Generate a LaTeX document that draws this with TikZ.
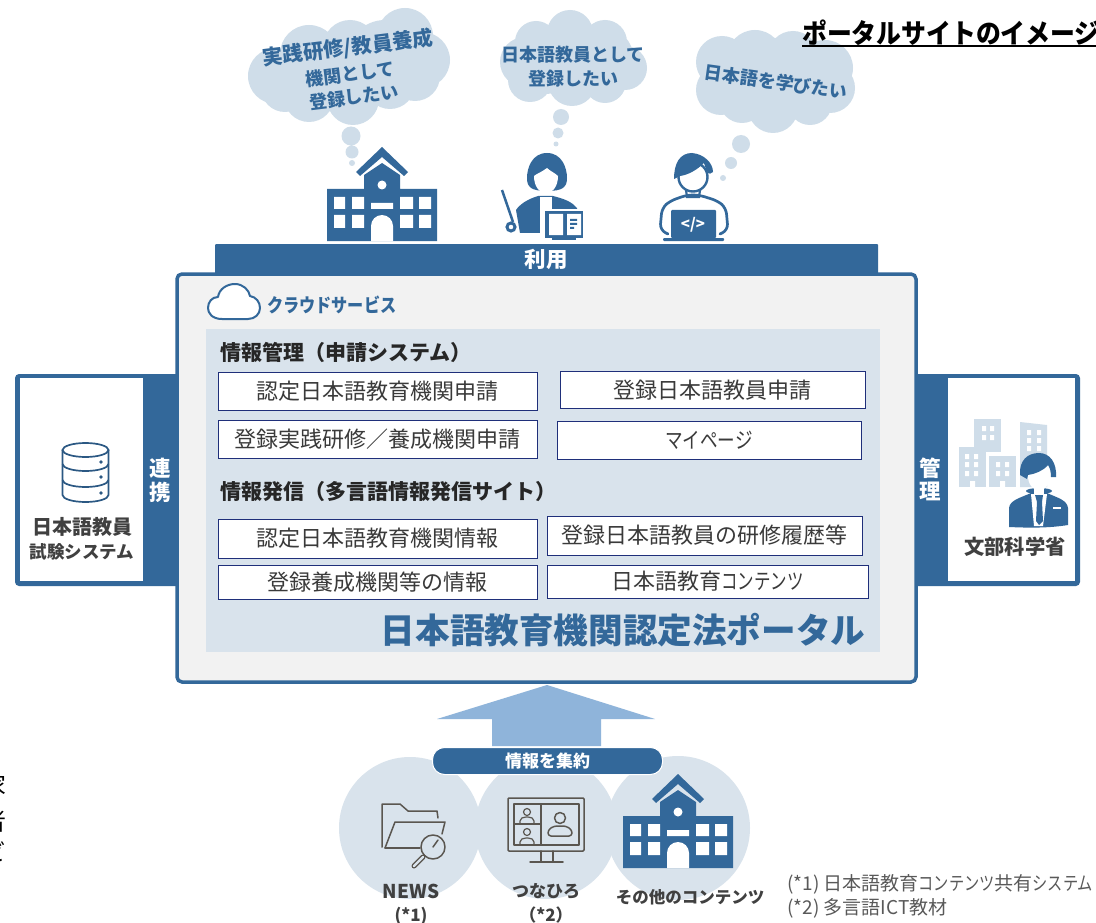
\documentclass[tikz,border=0pt]{standalone}
\usepackage{fontspec}
\setmainfont{Noto Sans CJK JP}
\newfontfamily\pf[CharacterWidth=Proportional]{Noto Sans CJK JP}
\definecolor{mainblue}{HTML}{33689A}
\definecolor{cloudc}{HTML}{CFDDE9}
\definecolor{panelc}{HTML}{D9E3EC}
\definecolor{framef}{HTML}{F2F2F2}
\definecolor{navy}{HTML}{1F2F7A}
\definecolor{arrowc}{HTML}{8FB4DA}
\definecolor{grayt}{HTML}{404040}
\definecolor{boxt}{HTML}{3A3A3A}
\definecolor{linec}{HTML}{5A5650}
\tikzset{
  entry/.style={draw=navy,line width=1pt,fill=white,inner sep=0pt,font=\pf\fontsize{22}{22}\selectfont,text=boxt},
  head/.style={anchor=west,inner sep=0pt,font=\bfseries\fontsize{21}{21}\selectfont,text=black!85},
  cloudt/.style={inner sep=0pt,font=\pf\bfseries\fontsize{18}{18}\selectfont,text=mainblue},
  whitet/.style={inner sep=0pt,font=\bfseries\fontsize{21.5}{22}\selectfont,text=white},
  grayb/.style={inner sep=0pt,font=\bfseries\fontsize{17}{17}\selectfont,text=grayt},
  note/.style={anchor=west,inner sep=0pt,font=\pf\fontsize{19}{19}\selectfont,text=black!65},
  icl/.style={draw=linec,line width=1.5pt,line join=round,line cap=round},
}
\newcommand{\rx}[4]{(#1,#2) rectangle (#3,#4)}
\newcommand{\nrw}[2]{\scalebox{#1}[1]{#2}}
\newcommand{\schoolicon}[2]{%
 \begin{scope}[shift={(#1,#2)}]
  \fill[mainblue] (0,42) -- (37,42) -- (37,28) -- (55,16) -- (73,28) -- (73,42) -- (110,42) -- (110,94) -- (0,94) -- cycle;
  \fill[mainblue] (55,0) -- (81,25) -- (77,29) -- (55,10) -- (33,29) -- (29,25) -- cycle;
  \fill[white] \rx{7}{50}{18}{62} \rx{25}{50}{37}{62} \rx{73}{50}{86}{62} \rx{92}{50}{104}{62}
    \rx{7}{68}{18}{81} \rx{25}{68}{37}{81} \rx{73}{68}{86}{81} \rx{92}{68}{104}{81} \rx{44}{56}{66}{62};
  \fill[white] (44,94) -- (44,79) arc[start angle=180,end angle=360,radius=11] -- (66,94) -- cycle;
  \fill[white] (55,38) circle[radius=4.5];
 \end{scope}}
\newcommand{\bld}[4]{\fill[cloudc] \rx{#1}{#2}{#3}{#4};}
\begin{document}
\begin{tikzpicture}[x=1pt,y=-1pt]
\useasboundingbox (0,0) rectangle (1096,923);
\clip (0,0) rectangle (1096,923);
\fill[white] (0,0) rectangle (1096,923);

% clipped text at left edge
\node[anchor=east,inner sep=0pt,font=\fontsize{24}{24}\selectfont] (cut1) at (7,785) {家};
\node[anchor=east,inner sep=0pt,font=\fontsize{24}{24}\selectfont] (cut2) at (7,821) {者};
\node[anchor=east,inner sep=0pt,font=\fontsize{24}{24}\selectfont] (cut3) at (7,852) {ビ};

% clouds
\fill[cloudc] (276,76) circle[radius=28] (309,54) circle[radius=29] (350,47) circle[radius=27] (405,36) circle[radius=28]
  (422,60) circle[radius=28] (415,76) circle[radius=25] (390,84) circle[radius=25] (353,99) circle[radius=26]
  (309,97) circle[radius=25] (350,70) circle[radius=42] (285,88) circle[radius=24] (385,58) circle[radius=38] (315,74) circle[radius=40];
\fill[cloudc] (351,136) circle[radius=9.5] (352,152) circle[radius=6.5] (352,163) circle[radius=3];
\node[cloudt,font=\pf\bfseries\fontsize{20.5}{21}\selectfont,rotate=7] (c1a) at (348,48) {実践研修/教員養成};
\node[cloudt,rotate=7] (c1b) at (350,74) {機関として};
\node[cloudt,rotate=7] (c1c) at (354,97) {登録したい};

\fill[cloudc] (525,62) circle[radius=25] (536,42) circle[radius=21] (570,33) circle[radius=23] (605,42) circle[radius=22]
  (625,68) circle[radius=22] (605,82) circle[radius=21] (572,82) circle[radius=24] (530,80) circle[radius=22] (572,60) circle[radius=36] (545,60) circle[radius=34] (600,60) circle[radius=34];
\fill[cloudc] (561,117) circle[radius=8] (558,133) circle[radius=5.5] (556,144) circle[radius=2.5];
\node[cloudt] (c2a) at (573,55) {日本語教員として};
\node[cloudt] (c2b) at (573,79) {登録したい};

\fill[cloudc] (722,62) circle[radius=26] (721,90) circle[radius=25] (755,58) circle[radius=28] (793,56) circle[radius=25]
  (825,68) circle[radius=28] (830,88) circle[radius=25] (810,103) circle[radius=22] (773,108) circle[radius=25] (742,100) circle[radius=23]
  (775,80) circle[radius=42] (800,80) circle[radius=40] (745,80) circle[radius=40];
\fill[cloudc] (741,144) circle[radius=9] (731,163) circle[radius=6] (723,178) circle[radius=3];
\node[cloudt,rotate=-8] (c3) at (776,82) {日本語を学びたい};

% title
\node[anchor=west,inner sep=0pt,font=\pf\bfseries\fontsize{27}{27}\selectfont] (title) at (802,33) {\nrw{0.92}{ポータルサイトのイメージ}};
\fill[black] \rx{802}{45}{1096}{47};

% school
\schoolicon{327}{147}

% teacher
\fill[mainblue] (547,153) .. controls (532,153) and (527,168) .. (527,178) .. controls (527,187) and (531,191) .. (547,191) .. controls (563,191) and (567,187) .. (567,178) .. controls (567,168) and (562,153) .. (547,153) -- cycle;
\fill[white] (547,168) .. controls (542,172) and (536,174) .. (534,176) .. controls (534,186) and (539,193) .. (546,193) .. controls (553,193) and (558,186) .. (558,176) .. controls (555,173) and (550,171) .. (547,168) -- cycle;
\fill[mainblue] (516,210) .. controls (520,204) and (528,199) .. (538,196) -- (553,196) .. controls (565,199) and (572,202) .. (577,208) -- (577,233) -- (520,233) -- cycle;
\fill[white] \rx{540}{197}{552}{209};
\fill[white] (540,240) rectangle (585,209);
\fill[mainblue] \rx{545}{211}{583}{238};
\fill[mainblue] (552,238) rectangle (576,240);
\fill[white] \rx{549}{214}{563}{235} \rx{567}{214}{581}{235};
\fill[mainblue] \rx{570}{219}{577}{221} \rx{570}{223}{577}{225} \rx{570}{227}{574}{229};
\draw[mainblue,line width=2.5pt] (502,190) -- (513,222);
\filldraw[fill=white,draw=mainblue,line width=3pt] (511,227) circle[radius=4];

% student
\draw[mainblue,line width=2.4pt] (693,177) circle[radius=14.5];
\fill[mainblue] (674,179) .. controls (674,163) and (680,153) .. (692,153) .. controls (704,154) and (713,163) .. (713,172) .. controls (711,174) and (709,174) .. (708,173) .. controls (706,170) and (705,166) .. (704,163) .. controls (697,170) and (688,175) .. (680,176) -- cycle;
\draw[mainblue,line width=2.7pt,line cap=round,rounded corners=6pt] (668,234) -- (660,230) -- (662,208) -- (670,201) -- (687,195) -- (699,195) -- (718,201) -- (726,208) -- (728,230) -- (720,234);
\draw[mainblue,line width=2.2pt] (686,190) -- (687,197) -- (699,197) -- (700,190);
\fill[white] \rx{669}{207}{718}{238};
\fill[mainblue,rounded corners=1pt] \rx{671}{210}{716}{238};
\fill[mainblue,rounded corners=1pt] \rx{663}{238}{724}{241};
\node[inner sep=0pt,font=\bfseries\fontsize{15}{15}\selectfont,text=white] (code) at (693,225) {</>};

% use bar
\fill[mainblue,rounded corners=1pt] \rx{215}{244}{878}{274};
\node[whitet] (riyou) at (546,259) {利用};

% left box
\fill[mainblue,rounded corners=4pt] \rx{15}{374}{185}{586};
\fill[white] \rx{20}{378}{143}{581};
\node[whitet] (ren) at (160,468) {連};
\node[whitet] (kei) at (160,492) {携};
\draw[mainblue!85!black,line width=1.7pt] (62.5,450) -- (62.5,495) arc[start angle=180,end angle=0,x radius=23,y radius=7] -- (108.5,450);
\draw[mainblue!85!black,line width=1.7pt] (85.5,450) ellipse[x radius=23,y radius=7];
\draw[mainblue!85!black,line width=1.7pt] (62.5,464) arc[start angle=180,end angle=0,x radius=23,y radius=7];
\draw[mainblue!85!black,line width=1.7pt] (62.5,480) arc[start angle=180,end angle=0,x radius=23,y radius=7];
\fill[mainblue!85!black] (101,462) circle[radius=1.8] (101,477) circle[radius=1.8] (101,493) circle[radius=1.8];
\node[grayb,font=\bfseries\fontsize{20}{20}\selectfont] (ls1) at (82,527) {日本語教員};
\node[grayb,font=\bfseries\fontsize{17.5}{18}\selectfont] (ls2) at (82,552) {試験システム};

% right box
\fill[mainblue,rounded corners=4pt] \rx{908}{374}{1080}{586};
\fill[white] \rx{948}{378}{1075}{581};
\node[whitet] (kan) at (930,468) {管};
\node[whitet] (ri) at (930,491) {理};
\bld{974}{419}{1001}{452}
\bld{959}{447}{986}{487}
\bld{989}{456}{1016}{487}
\fill[cloudc] (1020,422) -- (1047,425) -- (1047,487) -- (1020,487) -- cycle;
\fill[white] \rx{982}{426}{986}{431} \rx{990}{426}{994}{431} \rx{982}{435}{986}{440} \rx{990}{435}{994}{440}
  \rx{965}{454}{969}{459} \rx{974}{454}{978}{459} \rx{965}{462}{969}{467} \rx{974}{462}{978}{467} \rx{965}{471}{969}{476} \rx{974}{471}{978}{476}
  \rx{996}{462}{1000}{467} \rx{1005}{462}{1009}{467} \rx{996}{471}{1000}{476} \rx{1005}{471}{1009}{476}
  \rx{1027}{430}{1031}{435} \rx{1037}{430}{1041}{435} \rx{1027}{438}{1031}{443} \rx{1037}{438}{1041}{443} \rx{1027}{446}{1031}{451} \rx{1037}{446}{1041}{451};
\fill[white] \rx{970}{481}{975}{487} \rx{1000}{481}{1005}{487};
% official
\fill[white] (1012,527) rectangle (1066,490);
\fill[mainblue] (1009,527) -- (1009,508) .. controls (1010,500) and (1020,498) .. (1031,493) -- (1047,493) .. controls (1058,498) and (1067,500) .. (1068,508) -- (1068,525) .. controls (1050,528) and (1030,528) .. (1009,527) -- cycle;
\fill[white] (1031,494) -- (1047,494) -- (1043,526) -- (1034,526) -- cycle;
\fill[mainblue] (1035,495) -- (1043,495) -- (1042,502) -- (1043,521) -- (1039,525) -- (1036,521) -- (1037,502) -- cycle;
\fill[white] \rx{1053}{507}{1061}{509};
\fill[mainblue] (1039,491) ellipse[x radius=13,y radius=3];
\fill[white] (1039,476) ellipse[x radius=11,y radius=14.5];
\fill[white] \rx{1034}{485}{1044}{494};
\fill[mainblue] (1020,475) .. controls (1019,461) and (1027,453) .. (1039,453) .. controls (1050,453) and (1057,463) .. (1056,477) -- (1051,477) .. controls (1051,472) and (1050,468) .. (1048,465) .. controls (1043,471) and (1035,474) .. (1028,475) -- (1027,479) -- cycle;
\node[grayb,font=\bfseries\fontsize{20.3}{21}\selectfont] (ls3) at (1015,547) {文部科学省};

% main frame
\filldraw[fill=framef,draw=mainblue,line width=3.5pt,rounded corners=5pt] \rx{177}{274}{916}{682};
\fill[panelc] \rx{206}{329}{880}{652};

% cloud service
\draw[mainblue,line width=2pt,fill=white,line join=round] (222,319) .. controls (212,319) and (208,313) .. (208,308) .. controls (208,302) and (212,297) .. (218,297) .. controls (219,289) and (227,284) .. (235,284) .. controls (243,284) and (249,290) .. (250,296) .. controls (256,297) and (260,302) .. (260,308) .. controls (260,314) and (255,319) .. (248,319) -- cycle;
\node[anchor=west,inner sep=0pt,font=\pf\bfseries\fontsize{19}{19}\selectfont,text=mainblue] (cs) at (267,305) {\nrw{0.85}{クラウドサービス}};

% headings
\node[head] (h1) at (220,352) {情報管理（申請システム）};
\node[head] (h2) at (220,492) {情報発信（多言語情報発信サイト）};

% entries
\node[entry,minimum width=319pt,minimum height=38pt] (e1) at (377.5,391.5) {認定日本語教育機関申請};
\node[entry,minimum width=305pt,minimum height=37pt] (e2) at (712.5,390) {登録日本語教員申請};
\node[entry,font=\fontsize{22}{22}\selectfont,minimum width=319pt,minimum height=38pt] (e3) at (377.5,439) {登録実践研修／養成機関申請};
\node[entry,minimum width=304pt,minimum height=38pt] (e4) at (709,440.5) {\nrw{0.8}{マイページ}};
\node[entry,minimum width=319pt,minimum height=39pt] (e5) at (377.5,538.5) {認定日本語教育機関情報};
\node[entry,minimum width=315pt,minimum height=39pt] (e6) at (704.5,535.5) {登録日本語教員の研修履歴等};
\node[entry,minimum width=319pt,minimum height=34pt] (e7) at (377.5,582) {登録養成機関等の情報};
\node[entry,minimum width=321pt,minimum height=33pt] (e8) at (707.5,581.5) {日本語教育\nrw{0.75}{コンテンツ}};

\node[inner sep=0pt,font=\bfseries\fontsize{34.6}{35}\selectfont,text=mainblue] (big) at (623,630) {日本語教育機関認定法ポータル};

% bottom circles
\fill[panelc] (410,828) circle[radius=71];
\fill[panelc] (546,828) circle[radius=71];
\fill[panelc] (678,828) circle[radius=72];

% arrow
\fill[arrowc] (547,685) -- (655,719) -- (601,719) -- (601,746) -- (492,746) -- (492,719) -- (437,719) -- cycle;

% pill
\node[draw=white,line width=1pt,fill=mainblue,rounded corners=12pt,minimum width=230pt,minimum height=27pt,inner sep=0pt,font=\bfseries\fontsize{17}{17}\selectfont,text=white] (pill) at (547.5,761) {情報を集約};

% folder
\draw[icl] (382,847) -- (382,804) -- (400,804) -- (408,811) -- (437,811) -- (438,818);
\draw[icl] (385,848) -- (395,822) -- (445,822) -- (442,834);
\draw[icl] (385,848) -- (420,848);
\draw[icl] (433,847) circle[radius=12];
\draw[icl] (433,847) -- (438,840);
\draw[icl,line width=5pt] (423,857) -- (414,866);
\draw[panelc,line width=2.2pt,line cap=round] (423,857) -- (414,866);

% monitor
\draw[icl,rounded corners=1pt] \rx{508}{798}{584}{851};
\draw[icl] \rx{514}{804}{579}{845};
\draw[icl] (541,804) -- (541,845) (514,824) -- (541,824);
\draw[icl] (541,851) -- (541,862) (553,851) -- (553,862) (530,862) -- (563,862);
\draw[icl] (560,818) circle[radius=5.5];
\draw[icl,rounded corners=3pt] (548,836) -- (548,830) -- (554,826) -- (566,826) -- (572,830) -- (572,836) -- cycle;
\draw[icl,line width=1.2pt] (527,812) circle[radius=3.5] (527,832) circle[radius=3.5];
\draw[icl,line width=1.2pt,rounded corners=2pt] (520,824) -- (520,819) -- (524,817) -- (530,817) -- (534,819) -- (534,824);
\draw[icl,line width=1.2pt,rounded corners=2pt] (520,845) -- (520,840) -- (524,838) -- (530,838) -- (534,840) -- (534,845);

\schoolicon{623}{774}

% labels under circles
\node[grayb,font=\bfseries\fontsize{19}{19}\selectfont] (l1) at (411,891) {NEWS};
\node[grayb] (l1b) at (411,916) {(*1)};
\node[grayb] (l2) at (546,891) {つなひろ};
\node[grayb] (l2b) at (546,915) {（*2）};
\node[grayb,font=\bfseries\fontsize{16.5}{17}\selectfont] (l3) at (690,897) {その他のコンテンツ};

% notes
\node[note] (n1) at (787,884) {(*1) 日本語教育\nrw{0.8}{コンテンツ}共有\nrw{0.8}{システム}};
\node[note] (n2) at (787,908) {(*2) 多言語ICT教材};
\end{tikzpicture}
\end{document}
